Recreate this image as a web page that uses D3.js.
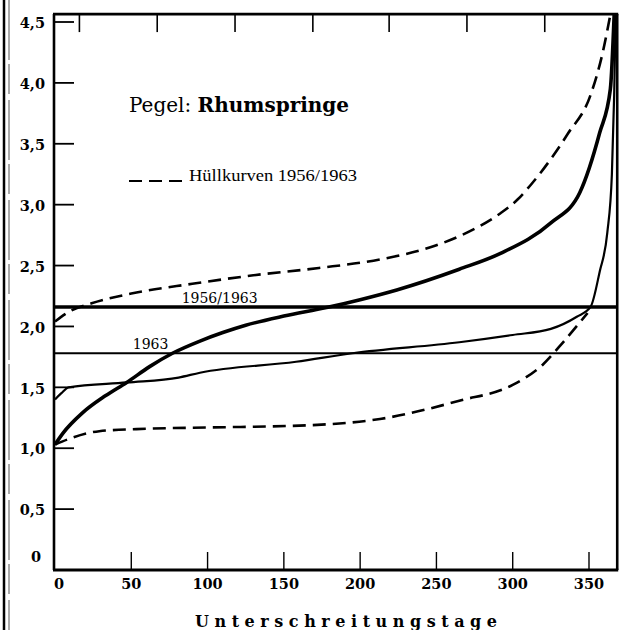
<!DOCTYPE html>
<html>
<head>
<meta charset="utf-8">
<script src="https://cdn.jsdelivr.net/npm/d3@7"></script>
<style>
  html, body { margin: 0; padding: 0; background: #fff; }
  svg { display: block; }
</style>
</head>
<body>
<svg id="chart" width="622" height="630"></svg>
<script>
// ---- data (days below threshold, water level in m) ----
const upperEnvelope = [
  [0, 2.04], [9, 2.12], [24, 2.19], [50, 2.27], [90, 2.35], [130, 2.42], [173, 2.48],
  [213, 2.55], [246, 2.65], [270, 2.77], [292, 2.93], [303, 3.04], [313, 3.18],
  [336, 3.58], [351, 3.90], [359, 4.25], [364, 4.56]
];
const lowerEnvelope = [
  [0, 1.03], [10, 1.08], [29, 1.14], [60, 1.16], [100, 1.17], [169, 1.19], [213, 1.24],
  [265, 1.39], [300, 1.52], [320, 1.69], [333, 1.87], [349, 2.11]
];
const curve1956_1963 = [
  [0, 1.03], [5, 1.12], [18, 1.29], [33, 1.43], [47, 1.54], [62, 1.67], [77, 1.78],
  [95, 1.88], [110, 1.95], [125, 2.01], [150, 2.085], [178, 2.155], [200, 2.22], [224, 2.30],
  [265, 2.47], [292, 2.60], [325, 2.85], [344, 3.10], [357, 3.59], [364, 3.95], [366.5, 4.56]
];
const curve1963 = [
  [0, 1.40], [4, 1.45], [9, 1.50], [47, 1.54], [81, 1.58], [95, 1.62], [158, 1.71],
  [195, 1.78], [265, 1.87], [300, 1.93], [325, 1.98], [342, 2.08], [351, 2.16],
  [357, 2.45], [362, 2.77], [365, 3.25], [366.5, 3.9], [367.5, 4.56]
];
const meanLevels = [
  { label: "1956/1963", value: 2.16, labelDay: 83 },
  { label: "1963", value: 1.78, labelDay: 51 }
];
const xTicks = [0, 50, 100, 150, 200, 250, 300, 350];
const topTicks = [16, 67, 118, 169, 219, 270, 321];
const yTicks = [0, 0.5, 1.0, 1.5, 2.0, 2.5, 3.0, 3.5, 4.0, 4.5];
const yTickLabels = ["0", "0,5", "1,0", "1,5", "2,0", "2,5", "3,0", "3,5", "4,0", "4,5"];
const titleRegular = "Pegel: ";
const titleBold = "Rhumspringe";
const legendLabel = "Hüllkurven 1956/1963";
const xTitle = "Unterschreitungstage";

// ---- layout ----
const svg = d3.select("#chart");
const x = d3.scaleLinear().domain([0, 350]).range([55, 589]);
const y = d3.scaleLinear().domain([0, 4.5]).range([570, 22]);
const xMaxDay = 368.5;
const yTop = 4.565;
const serif = "'DejaVu Serif', serif";

// page border lines on the left (scan edge)
svg.append("line").attr("x1", 4).attr("x2", 4).attr("y1", 0).attr("y2", 630)
  .attr("stroke", "#000").attr("stroke-width", 2.5);
svg.append("line").attr("x1", 9).attr("x2", 9).attr("y1", 0).attr("y2", 630)
  .attr("stroke", "#555").attr("stroke-width", 1).attr("stroke-dasharray", "60,4,30,6");

const plot = svg.append("g");

// curves
const line = d3.line().x(d => x(d[0])).y(d => y(d[1])).curve(d3.curveMonotoneX);

plot.append("path").datum(upperEnvelope).attr("d", line)
  .attr("fill", "none").attr("stroke", "#000").attr("stroke-width", 2.6)
  .attr("stroke-dasharray", "13,7");
plot.append("path").datum(lowerEnvelope).attr("d", line)
  .attr("fill", "none").attr("stroke", "#000").attr("stroke-width", 2.6)
  .attr("stroke-dasharray", "13,7");
plot.append("path").datum(curve1963).attr("d", line)
  .attr("fill", "none").attr("stroke", "#000").attr("stroke-width", 2.2);
plot.append("path").datum(curve1956_1963).attr("d", line)
  .attr("fill", "none").attr("stroke", "#000").attr("stroke-width", 3.6);

// mean level horizontal lines
meanLevels.forEach((m, i) => {
  plot.append("line")
    .attr("x1", x(0)).attr("x2", x(xMaxDay))
    .attr("y1", y(m.value)).attr("y2", y(m.value))
    .attr("stroke", "#000").attr("stroke-width", i === 0 ? 3.5 : 2.2);
  plot.append("text")
    .attr("x", x(m.labelDay)).attr("y", y(m.value) - 4)
    .attr("font-family", serif).attr("font-size", 14)
    .attr("text-anchor", "start")
    .text(m.label);
});

// frame
const fx0 = x(0) - 1, fx1 = x(xMaxDay), fy0 = y(yTop), fy1 = y(0);
plot.append("line").attr("x1", fx0).attr("x2", fx0).attr("y1", fy0).attr("y2", fy1)
  .attr("stroke", "#000").attr("stroke-width", 2.6);
plot.append("line").attr("x1", fx1).attr("x2", fx1).attr("y1", fy0).attr("y2", fy1)
  .attr("stroke", "#000").attr("stroke-width", 2.6);
plot.append("line").attr("x1", fx0 - 1).attr("x2", fx1 + 1).attr("y1", fy0).attr("y2", fy0)
  .attr("stroke", "#000").attr("stroke-width", 2.6);
plot.append("line").attr("x1", fx0 - 1).attr("x2", fx1 + 1).attr("y1", fy1).attr("y2", fy1)
  .attr("stroke", "#000").attr("stroke-width", 2.8);

// bottom ticks (inward)
xTicks.filter(d => d > 0).forEach(d => {
  plot.append("line").attr("x1", x(d)).attr("x2", x(d))
    .attr("y1", fy1).attr("y2", fy1 - 18)
    .attr("stroke", "#000").attr("stroke-width", 1.4);
});
xTicks.forEach(d => {
  plot.append("text")
    .attr("x", x(d) + (d === 0 ? 4 : 0)).attr("y", 589)
    .attr("text-anchor", "middle")
    .attr("font-family", serif).attr("font-weight", "bold").attr("font-size", 14.5)
    .text(d);
});
// top ticks (inward)
topTicks.forEach(d => {
  plot.append("line").attr("x1", x(d)).attr("x2", x(d))
    .attr("y1", fy0).attr("y2", fy0 + 18)
    .attr("stroke", "#000").attr("stroke-width", 1.6);
});
// left ticks (inward)
yTicks.forEach((d, i) => {
  if (d > 0) {
    plot.append("line").attr("x1", fx0).attr("x2", fx0 + 20)
      .attr("y1", y(d)).attr("y2", y(d))
      .attr("stroke", "#000").attr("stroke-width", 1.8);
  }
  plot.append("text")
    .attr("x", d === 0 ? 41 : 45)
    .attr("y", d === 0 ? y(d) - 13 : y(d) + 1)
    .attr("dy", "0.36em")
    .attr("text-anchor", "end")
    .attr("font-family", serif).attr("font-weight", "bold").attr("font-size", 14.5)
    .text(yTickLabels[i]);
});

// title
const title = svg.append("text").attr("x", 129).attr("y", 112)
  .attr("font-family", serif).attr("font-size", 20);
title.append("tspan").text(titleRegular);
title.append("tspan").attr("font-weight", "bold").text(titleBold);

// legend
svg.append("line").attr("x1", 129).attr("x2", 182).attr("y1", 181).attr("y2", 181)
  .attr("stroke", "#000").attr("stroke-width", 2).attr("stroke-dasharray", "13,7");
svg.append("text").attr("x", 189).attr("y", 181)
  .attr("font-family", "'Liberation Serif', serif").attr("font-size", 16)
  .attr("textLength", 168).attr("lengthAdjust", "spacingAndGlyphs")
  .text(legendLabel);

// x axis title
svg.append("text").attr("x", 195).attr("y", 627)
  .attr("font-family", serif).attr("font-weight", "bold").attr("font-size", 16)
  .attr("textLength", 302).attr("lengthAdjust", "spacing")
  .text(xTitle);
</script>
</body>
</html>
